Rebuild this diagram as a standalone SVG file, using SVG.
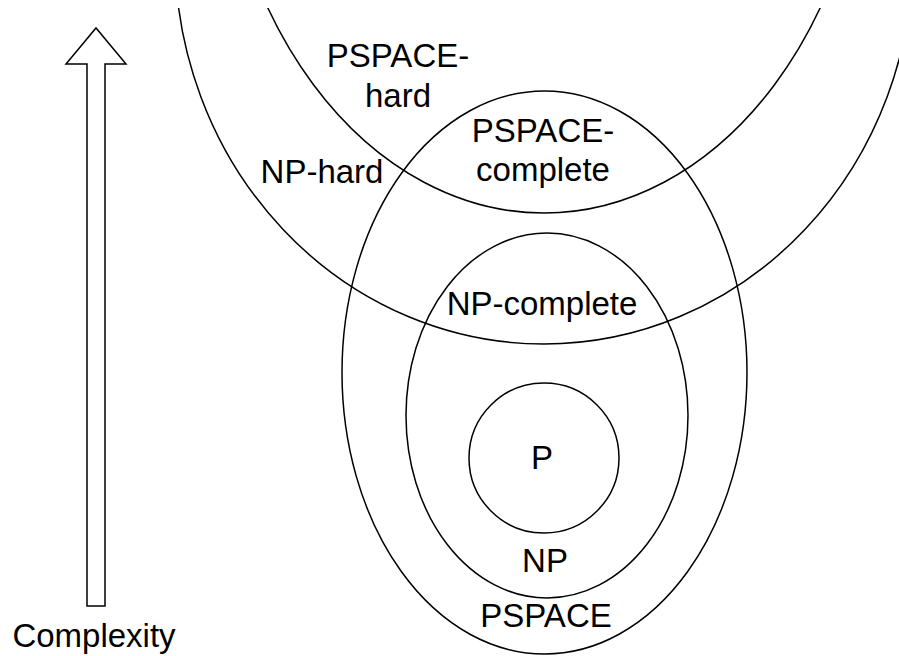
<svg xmlns="http://www.w3.org/2000/svg" width="899" height="656" viewBox="0 0 899 656">
  <style>
    .shape { fill: none; stroke: #000; stroke-width: 1.5; }
    .lbl { font-family: "Liberation Sans", Arial, Helvetica, sans-serif; font-size: 33px; fill: #000; text-anchor: middle; }
  </style>
  <defs>
    <clipPath id="topClip">
      <rect x="0" y="8" width="899" height="648"/>
    </clipPath>
  </defs>
  <rect x="0" y="0" width="899" height="656" fill="#fff"/>

  <g id="np-hard">
    <ellipse class="shape" cx="544" cy="-47" rx="369" ry="391" clip-path="url(#topClip)"/>
    <text class="lbl" x="322" y="183">NP-hard</text>
  </g>

  <g id="pspace-hard">
    <ellipse class="shape" cx="544" cy="-225" rx="326" ry="438" clip-path="url(#topClip)"/>
    <text class="lbl" x="398" y="67">PSPACE-</text>
    <text class="lbl" x="398" y="107">hard</text>
  </g>

  <g id="pspace">
    <ellipse class="shape" cx="544.5" cy="372.5" rx="202.5" ry="281.5"/>
    <text class="lbl" x="546" y="627">PSPACE</text>
  </g>

  <g id="pspace-complete">
    <text class="lbl" x="543" y="142">PSPACE-</text>
    <text class="lbl" x="543" y="181">complete</text>
  </g>

  <g id="np">
    <ellipse class="shape" cx="547" cy="415.5" rx="141" ry="182.5"/>
    <text class="lbl" x="545" y="572">NP</text>
  </g>

  <g id="np-complete">
    <text class="lbl" x="542" y="315">NP-complete</text>
  </g>

  <g id="p">
    <circle class="shape" cx="544" cy="458" r="75"/>
    <text class="lbl" x="542" y="469">P</text>
  </g>

  <g id="complexity-arrow">
    <polygon class="shape" points="87,606 87,64 66,64 96,28 126,64 105,64 105,606"/>
    <text class="lbl" x="94" y="647">Complexity</text>
  </g>

  <g id="connectors"></g>
</svg>
